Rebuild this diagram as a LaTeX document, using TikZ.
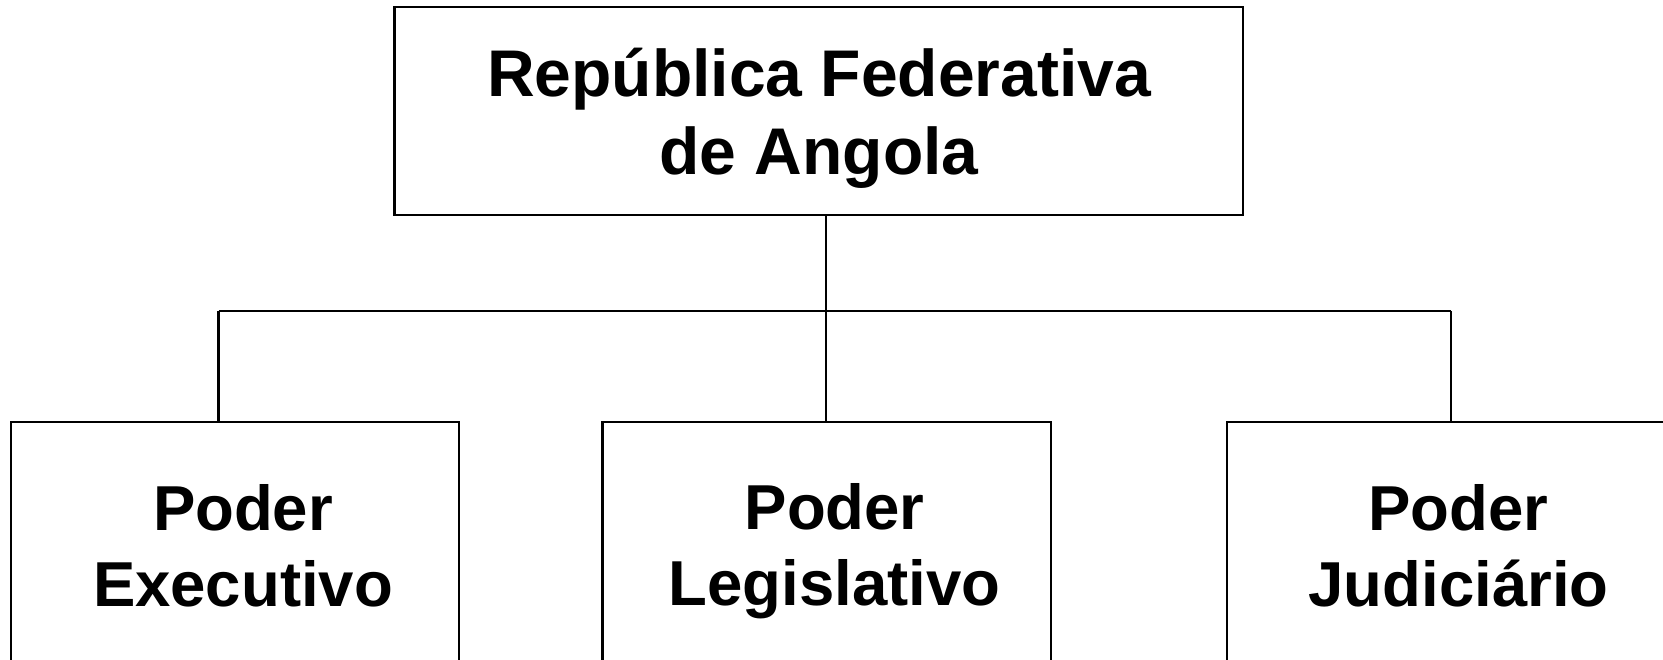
\documentclass[tikz,border=0pt]{standalone}
\usepackage{fontspec}
\setmainfont{Liberation Sans}
\begin{document}
\begin{tikzpicture}[x=1pt,y=-1pt,
  box/.style={draw=black, line width=2.2pt, rectangle, inner sep=0pt},
  topbox/.style={box, minimum width=848.5pt, minimum height=208pt},
  powbox/.style={box, minimum width=448.6pt, minimum height=250pt},
  toplbl/.style={align=center, inner sep=0pt, font=\fontsize{66}{78.5}\selectfont\bfseries},
  powlbl/.style={align=center, inner sep=0pt, font=\fontsize{63.5}{76.5}\selectfont\bfseries},
  conn/.style={draw=black, line width=2.2pt}]
\useasboundingbox (0,0) rectangle (1663,659);
\clip (0,0) rectangle (1663,659);
\node[topbox] (rep) at (818.75,111.3) {};
\node[toplbl] (repT) at (819,118.5) {República Federativa\\de Angola};
\node[powbox] (ex) at (234.9,547.1) {};
\node[powbox] (leg) at (826.7,547.1) {};
\node[powbox] (ju) at (1451.4,547.1) {};
\node[powlbl] (exT) at (243,546) {Poder\\Executivo};
\node[powlbl] (legT) at (834.7,551) {Poder\\Legislativo};
\node[powlbl] (juT) at (1458.5,546) {Poder\\Judiciário};
\coordinate (jn) at (826.2,310.8);
\coordinate (bl) at (218.5,310.8);
\coordinate (br) at (1450.9,310.8);
\draw[conn] (rep.south -| jn) -- (leg.north -| jn);
\draw[conn] (bl) -- (br);
\draw[conn] (bl) -- (ex.north -| bl);
\draw[conn] (br) -- (ju.north -| br);
\end{tikzpicture}
\end{document}
